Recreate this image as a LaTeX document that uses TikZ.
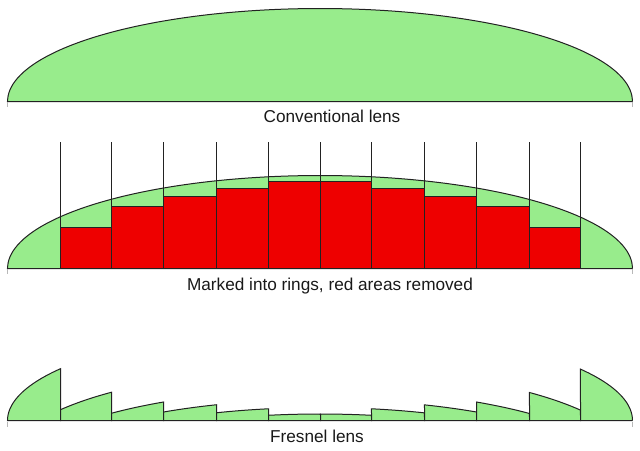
\documentclass[tikz,border=0pt]{standalone}
\usepackage{fontspec}
\setmainfont{Liberation Sans}
\definecolor{lensgreen}{HTML}{98EC8C}
\definecolor{cutred}{HTML}{EE0000}
\definecolor{inkline}{HTML}{222222}
\definecolor{tickgray}{HTML}{B8B8B8}
\tikzset{
  lensline/.style={draw=inkline,line width=1pt,line join=miter},
  lensfill/.style={lensline,fill=lensgreen},
  redblock/.style={lensline,fill=cutred},
  ringline/.style={draw=inkline,line width=1pt},
  basetick/.style={draw=tickgray,line width=1pt},
  caption/.style={text=black!90,font=\fontsize{17.2}{20}\selectfont,inner sep=0pt,anchor=center}
}
% #1 x start, #2 x end, #3 base y, #4 amount cut from the lens height
\newcommand{\lenspiece}[4]{%
  \pgfmathsetmacro{\tone}{acos((#1-320)/312.5)}%
  \pgfmathsetmacro{\ttwo}{acos((#2-320)/312.5)}%
  \draw[lensfill] (#1,#3) -- plot[domain=\tone:\ttwo,samples=50,smooth]
    ({320+312.5*cos(\x)},{#3+#4-93*sin(\x)}) -- (#2,#3) -- cycle;%
}
\begin{document}
\begin{tikzpicture}[x=1pt,y=-1pt]
\useasboundingbox (0,0) rectangle (640,450);
% Conventional lens
\lenspiece{7.5}{632.5}{101.5}{0}
\foreach \ex in {7.5,632.5} \draw[basetick] (\ex,102) -- (\ex,107);
\node[caption] (conv) at (332,116.5) {Conventional lens};
% Marked lens
\lenspiece{7.5}{632.5}{268.5}{0}
\foreach \ex in {7.5,632.5} \draw[basetick] (\ex,269) -- (\ex,274);
\foreach \a/\b/\h in {60.5/111.5/41,111.5/163.5/62,163.5/216.5/72,216.5/268.5/80,268.5/320.5/87,
  320.5/371.5/87,371.5/424.5/80,424.5/476.5/72,476.5/529.5/62,529.5/580.5/41}
  \draw[redblock] (\a,268.5) rectangle (\b,268.5-\h);
\foreach \vx in {60.5,111.5,163.5,216.5,268.5,320.5,371.5,424.5,476.5,529.5,580.5}
  \draw[ringline] (\vx,142) -- (\vx,268.5);
\node[caption] (marked) at (330,286.5) {Marked into rings, red areas removed};
% Fresnel lens
\foreach \a/\b/\h in {7.5/60.5/0,60.5/111.5/41,111.5/163.5/62,163.5/216.5/72,216.5/268.5/80,268.5/320.5/86.5,
  320.5/371.5/86.5,371.5/424.5/80,424.5/476.5/72,476.5/529.5/62,529.5/580.5/41,580.5/632.5/0}
  {\lenspiece{\a}{\b}{420.5}{\h}}
\foreach \ex in {7.5,632.5} \draw[basetick] (\ex,421.5) -- (\ex,427);
\node[caption] (fres) at (317,436.5) {Fresnel lens};
\end{tikzpicture}
\end{document}
